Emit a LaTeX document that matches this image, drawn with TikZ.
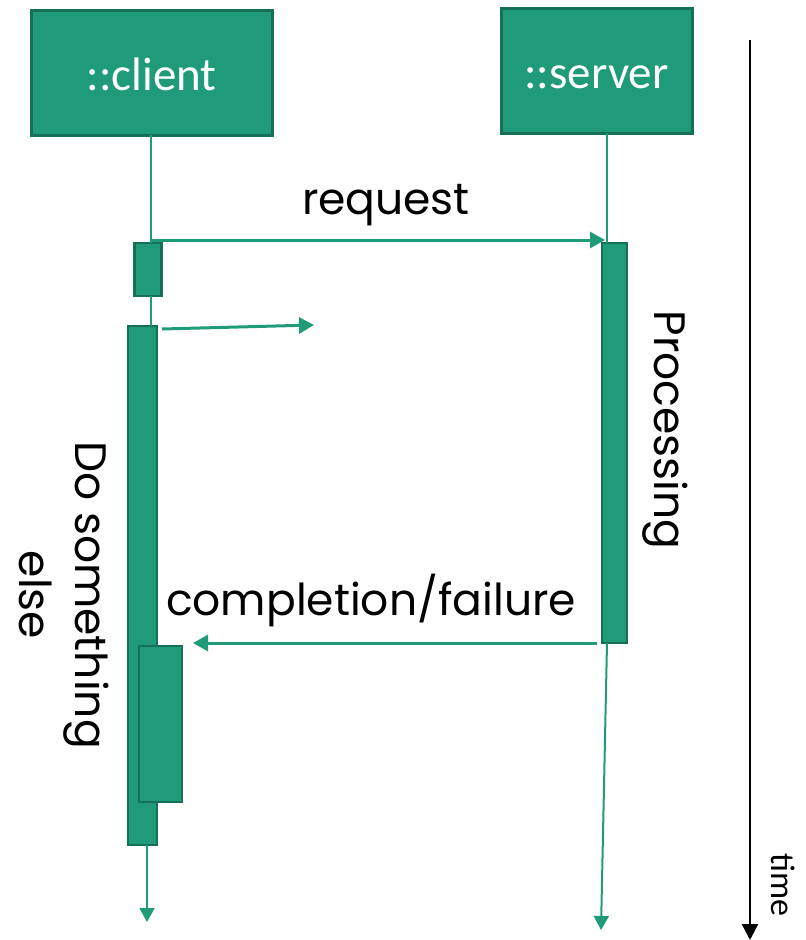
\documentclass[tikz,border=0pt]{standalone}
\usepackage{fontspec}
\setmainfont{Poppins}
\newfontfamily\boxfont{Carlito}
\usetikzlibrary{arrows.meta}
\definecolor{umlgreen}{RGB}{32,155,122}
\definecolor{umldark}{RGB}{22,112,87}
\tikzset{
  lifebox/.style={draw=umldark, fill=umlgreen, line width=3pt, inner sep=0pt, text=white, text height=36pt, text depth=0pt, font=\boxfont\fontsize{47}{52}\selectfont},
  actbox/.style={draw=umldark, fill=umlgreen, line width=2.5pt, inner sep=0pt},
  lifeline/.style={draw=umlgreen, line width=2pt},
  lifeend/.style={lifeline, -{Triangle[length=14pt,width=15pt]}},
  msg/.style={draw=umlgreen, line width=3pt, -{Triangle[length=15pt,width=16pt]}},
  lbl/.style={font=\fontsize{44}{56}\selectfont, inner sep=0pt}
}
\begin{document}
\begin{tikzpicture}[x=1pt,y=-1pt]
\useasboundingbox (0,0) rectangle (806,940);
\node[lifebox, minimum width=241pt, minimum height=125pt] (client) at (151.5,72.5) {::client};
\node[lifebox, minimum width=191pt, minimum height=125pt] (server) at (596.5,70.5) {::server};

\node[actbox, minimum width=27pt, minimum height=53pt] (act1) at (148,269.5) {};
\node[actbox, minimum width=29pt, minimum height=519pt] (act2) at (142.5,585.5) {};
\node[actbox, minimum width=43pt, minimum height=156pt] (act3) at (160.5,724) {};
\node[actbox, minimum width=25pt, minimum height=400pt] (act4) at (614.5,443) {};

\coordinate (c1) at (151,135);
\coordinate (c2) at (151,243);
\coordinate (c3) at (151,296);
\coordinate (c4) at (151,326);
\coordinate (c5) at (147,845);
\coordinate (c6) at (147,922);
\coordinate (s1) at (607,133);
\coordinate (s2) at (607,243);
\coordinate (s3) at (607,643);
\coordinate (s4) at (601,930);
\coordinate (r1) at (151,240);
\coordinate (r2) at (605,240);
\coordinate (m1) at (162,329);
\coordinate (m2) at (314,325);
\coordinate (f1) at (597,643);
\coordinate (f2) at (193,643);
\coordinate (t1) at (750,40);
\coordinate (t2) at (750,940);

\path[lifeline] (c1) -- (c2);
\path[lifeline] (c3) -- (c4);
\path[lifeend] (c5) -- (c6);
\path[lifeline] (s1) -- (s2);
\path[lifeend] (s3) -- (s4);

\path[msg] (r1) -- (r2);
\path[msg] (m1) -- (m2);
\path[msg] (f1) -- (f2);
\path[draw=black, line width=2.5pt, -{Triangle[length=16pt,width=16pt]}] (t1) -- (t2);

\node[lbl] (req) at (386,205) {request};
\node[lbl] (done) at (371,600) {completion/failure};
\node[lbl, rotate=-90] (proc) at (665,430) {Processing};
\node[lbl, rotate=-90, align=center] (other) at (64,595) {Do something\\else};
\node[font=\boxfont\fontsize{34}{40}\selectfont, inner sep=0pt, rotate=-90] (time) at (783,885) {time};
\end{tikzpicture}
\end{document}
